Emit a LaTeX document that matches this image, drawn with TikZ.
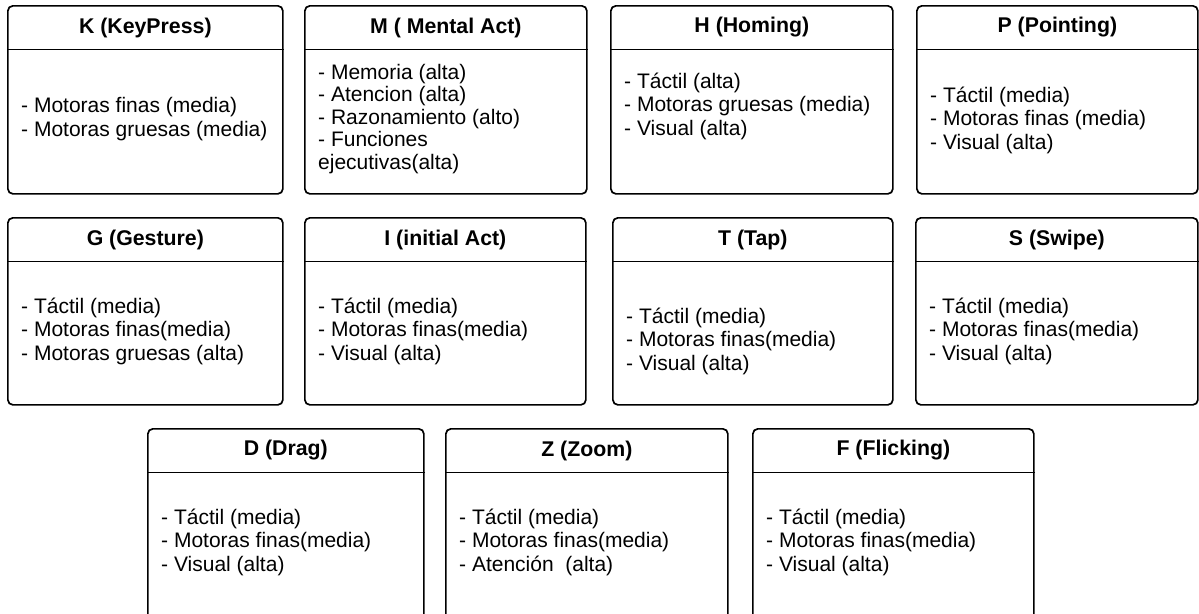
\documentclass[tikz,border=0pt]{standalone}
\usepackage{fontspec}
\setmainfont{Liberation Sans}

\tikzset{
  boxframe/.style={draw, line width=1.7pt, rounded corners=5pt, anchor=north west, inner sep=0pt},
  boxtitle/.style={font=\bfseries\fontsize{21.3}{24}\selectfont, inner sep=0pt},
  boxbody/.style={anchor=base west, align=left, inner sep=0pt, font=\fontsize{21}{23.3}\selectfont},
  mentalbody/.style={boxbody, font=\fontsize{21}{22.5}\selectfont},
  divider/.style={line width=1.7pt}
}

% #1 name, #2 left x, #3 top y, #4 width, #5 height, #6 title,
% #7 baseline of the last body line, #8 body style, #9 body text
\newcommand\actbox[9]{%
  \node[boxframe, minimum width=#4pt, minimum height=#5pt] (#1) at (#2,#3) {};
  \draw[divider] ([yshift=-44.5pt]#1.north west) -- ([yshift=-44.5pt]#1.north east);
  \node[boxtitle] (#1-title) at ([yshift=-22.5pt]#1.north) {#6};
  \node[#8] (#1-body) at ({#2+14},{#7}) {#9};
}

\begin{document}
\begin{tikzpicture}[x=1pt, y=-1pt]
  \useasboundingbox (0,0) rectangle (1199,613);
  \fill[white] (0,0) rectangle (1199,613);
  \clip (0,0) rectangle (1199,613);

  % first row
  \actbox{K}{7}{5}{275}{188}{K (KeyPress)}{136}{boxbody}%
    {- Motoras finas (media)\\- Motoras gruesas (media)}
  \actbox{M}{304}{5}{282}{188}{M ( Mental Act)}{169}{mentalbody}%
    {- Memoria (alta)\\- Atencion (alta)\\- Razonamiento (alto)\\- Funciones\\ejecutivas(alta)}
  \actbox{H}{610}{5}{282}{188}{H (Homing)}{135}{boxbody}%
    {- Táctil (alta)\\- Motoras gruesas (media)\\- Visual (alta)}
  \actbox{P}{916}{5}{281}{188}{P (Pointing)}{149}{boxbody}%
    {- Táctil (media)\\- Motoras finas (media)\\- Visual (alta)}

  % second row
  \actbox{G}{7}{217}{275}{187}{G (Gesture)}{360}{boxbody}%
    {- Táctil (media)\\- Motoras finas(media)\\- Motoras gruesas (alta)}
  \actbox{I}{304}{217}{281}{187}{I (initial Act)}{360}{boxbody}%
    {- Táctil (media)\\- Motoras finas(media)\\- Visual (alta)}
  \actbox{T}{612}{217}{280}{187}{T (Tap)}{370}{boxbody}%
    {- Táctil (media)\\- Motoras finas(media)\\- Visual (alta)}
  \actbox{S}{915}{217}{282}{187}{S (Swipe)}{360}{boxbody}%
    {- Táctil (media)\\- Motoras finas(media)\\- Visual (alta)}

  % third row (runs past the lower edge)
  \actbox{D}{147}{428}{276}{200}{D (Drag)}{571}{boxbody}%
    {- Táctil (media)\\- Motoras finas(media)\\- Visual (alta)}
  \actbox{Z}{445}{428}{282}{200}{Z (Zoom)}{571}{boxbody}%
    {- Táctil (media)\\- Motoras finas(media)\\- Atención\ \ (alta)}
  \actbox{F}{752}{428}{281}{200}{F (Flicking)}{571}{boxbody}%
    {- Táctil (media)\\- Motoras finas(media)\\- Visual (alta)}
\end{tikzpicture}
\end{document}
